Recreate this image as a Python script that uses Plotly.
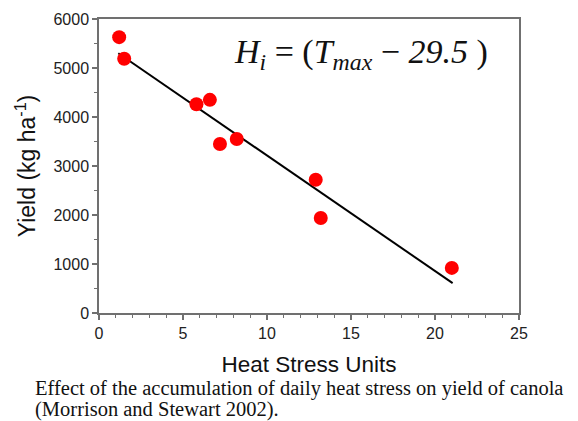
import plotly.graph_objects as go

heat_units = [1.2, 1.5, 5.8, 6.6, 7.2, 8.2, 12.9, 13.2, 21.0]
yield_kg = [5630, 5190, 4260, 4350, 3450, 3550, 2720, 1940, 920]
fit_x = [1.15, 21.05]
fit_y = [5300, 610]

fig = go.Figure()
fig.add_trace(go.Scatter(x=fit_x, y=fit_y, mode="lines",
                         line=dict(color="black", width=2), showlegend=False))
fig.add_trace(go.Scatter(x=heat_units, y=yield_kg, mode="markers",
                         marker=dict(color="#ff0000", size=14), showlegend=False))

axis_common = dict(showgrid=False, zeroline=False, showline=True, linecolor="#707070",
                   linewidth=1.5, mirror=True, ticks="outside", ticklen=5,
                   tickcolor="#707070", tickwidth=1.5, automargin=False,
                   tickfont=dict(family="Liberation Sans, Arial", size=16, color="#222"))

fig.update_xaxes(range=[0, 25], tickvals=[0, 5, 10, 15, 20, 25],
                 minor=dict(dtick=1, ticks="outside", ticklen=3, tickcolor="#707070", tickwidth=1.2),
                 title=dict(text="Heat Stress Units", standoff=15,
                            font=dict(family="Liberation Sans, Arial", size=22.5, color="#111")),
                 **axis_common)
fig.update_yaxes(range=[0, 6000], tickvals=[0, 1000, 2000, 3000, 4000, 5000, 6000],
                 minor=dict(dtick=500, ticks="outside", ticklen=3, tickcolor="#707070", tickwidth=1.2),
                 title=dict(text="Yield (kg ha<sup>-1</sup>)", standoff=11,
                            font=dict(family="Liberation Sans, Arial", size=23, color="#111")),
                 **axis_common)

fig.add_annotation(xref="paper", yref="paper", x=0.624, y=0.96, showarrow=False,
                   text="<i>H<sub>i</sub></i> = (<i>T<sub>max</sub></i> − <i>29.5</i> )",
                   font=dict(family="Liberation Serif, Times New Roman", size=34, color="#111"))
caption_font = dict(family="Liberation Serif, Times New Roman", size=20.5, color="#111")
fig.add_annotation(xref="paper", yref="paper", x=-0.157, y=(313 - 388) / 294,
                   xanchor="left", yanchor="middle", showarrow=False,
                   text="Effect of the accumulation of daily heat stress on yield of canola",
                   font=caption_font)
fig.add_annotation(xref="paper", yref="paper", x=-0.157, y=(313 - 409) / 294,
                   xanchor="left", yanchor="middle", showarrow=False,
                   text="(Morrison and Stewart 2002).",
                   font=caption_font)

fig.update_layout(width=570, height=413, margin=dict(l=91, r=59, t=11, b=108),
                  paper_bgcolor="white", plot_bgcolor="white")
fig.write_html("out.html")
